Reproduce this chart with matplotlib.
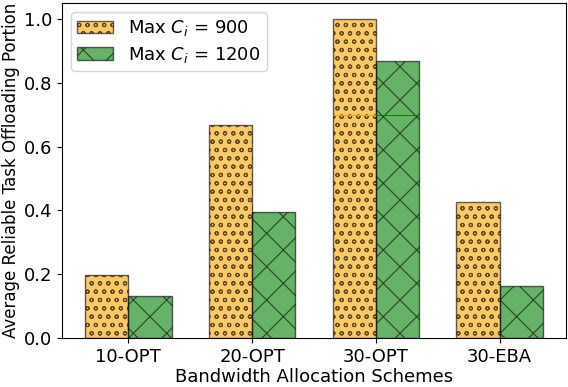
import numpy as np
import matplotlib
matplotlib.use("Agg")
import matplotlib.pyplot as plt

# -------- Data --------
schemes = ["10-OPT", "20-OPT", "30-OPT", "30-EBA"]
ci_900 = [0.197, 0.667, 1.0, 0.427]
ci_1200 = [0.131, 0.396, 0.867, 0.162]
# thin marker line inside the 30-OPT bars
mark_level = 0.7
mark_idx = 2

# -------- Plot --------
plt.rcParams["hatch.linewidth"] = 0.8
fig, ax = plt.subplots(figsize=(5.68, 3.87), dpi=100)
fig.subplots_adjust(left=62 / 568, right=566 / 568, top=1 - 3 / 387, bottom=1 - 338 / 387)

x = np.arange(len(schemes))
w = 0.35

b1 = ax.bar(x - w / 2, ci_900, w, color="orange", alpha=0.6, edgecolor="black",
            hatch="oo", label="Max $C_i$ = 900")
b2 = ax.bar(x + w / 2, ci_1200, w, color="green", alpha=0.6, edgecolor="black",
            hatch="x", label="Max $C_i$ = 1200")

for bars, col in [(b1, "orange"), (b2, "green")]:
    p = bars.patches[mark_idx]
    ax.hlines(mark_level, p.get_x(), p.get_x() + p.get_width(), colors=col,
              linewidth=0.7, zorder=3)

ax.set_xticks(x)
ax.set_xticklabels(schemes, fontsize=13)
ax.tick_params(axis="y", labelsize=13)
ax.set_xlabel("Bandwidth Allocation Schemes", fontsize=13, labelpad=2)
ax.set_ylabel("Average Reliable Task Offloading Portion", fontsize=12, labelpad=3)
ax.legend(loc="upper left", fontsize=13, borderpad=0.35, labelspacing=0.35)

plt.savefig("out.png", dpi=100)
